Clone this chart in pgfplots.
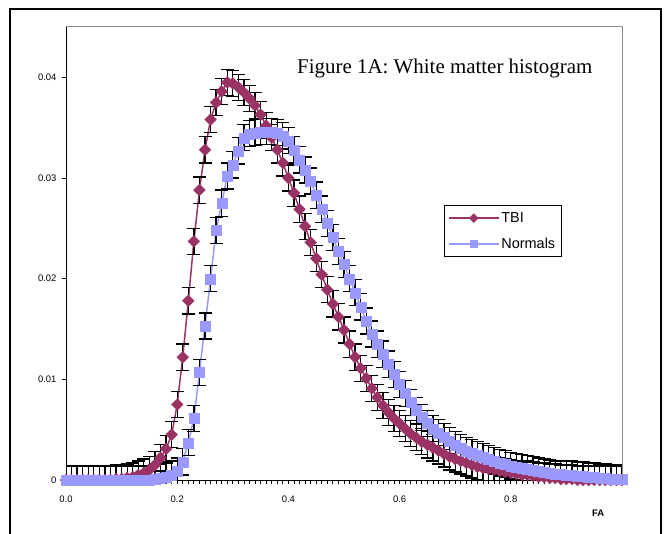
\documentclass[border=0pt]{standalone}
\usepackage{fontspec}
\setmainfont{Liberation Sans}
\newfontfamily\timesfont{Liberation Serif}
\usepackage{pgfplots}
\usepackage{pgfplotstable}
\pgfplotsset{compat=1.18}
\definecolor{tbicol}{HTML}{993366}
\definecolor{nrmcol}{HTML}{9999FF}

\pgfplotstableread{
x y e
0.00 0.0000 0.0014
0.01 0.0000 0.0014
0.02 0.0000 0.0014
0.03 0.0000 0.0014
0.04 0.0000 0.0014
0.05 0.0000 0.0014
0.06 0.0000 0.0014
0.07 0.0000 0.0014
0.08 0.0000 0.0014
0.09 0.0001 0.0014
0.10 0.0001 0.0014
0.11 0.0002 0.0014
0.12 0.0003 0.0014
0.13 0.0005 0.0014
0.14 0.0007 0.0014
0.15 0.0010 0.0013
0.16 0.0015 0.0013
0.17 0.0022 0.0013
0.18 0.0031 0.0013
0.19 0.0045 0.0013
0.20 0.0075 0.0013
0.21 0.0122 0.0013
0.22 0.0178 0.0013
0.23 0.0237 0.0013
0.24 0.0288 0.0013
0.25 0.0328 0.0013
0.26 0.0358 0.0013
0.27 0.0375 0.0013
0.28 0.0386 0.0013
0.29 0.0395 0.0013
0.30 0.0394 0.0013
0.31 0.0390 0.0013
0.32 0.0385 0.0013
0.33 0.0379 0.0013
0.34 0.0372 0.0013
0.35 0.0363 0.0013
0.36 0.0352 0.0013
0.37 0.0340 0.0013
0.38 0.0328 0.0013
0.39 0.0315 0.0013
0.40 0.0300 0.0013
0.41 0.0285 0.0013
0.42 0.0269 0.0013
0.43 0.0252 0.0013
0.44 0.0236 0.0013
0.45 0.0220 0.0013
0.46 0.0204 0.0013
0.47 0.0189 0.0013
0.48 0.0175 0.0013
0.49 0.0162 0.0013
0.50 0.0149 0.0013
0.51 0.0135 0.0013
0.52 0.0122 0.0013
0.53 0.0111 0.0013
0.54 0.0101 0.0013
0.55 0.0091 0.0013
0.56 0.0082 0.0013
0.57 0.0074 0.0013
0.58 0.0067 0.0013
0.59 0.0061 0.0013
0.60 0.0056 0.0013
0.61 0.0051 0.0013
0.62 0.0046 0.0013
0.63 0.0042 0.0013
0.64 0.0038 0.0013
0.65 0.0035 0.0013
0.66 0.0032 0.0013
0.67 0.0029 0.0013
0.68 0.0026 0.0013
0.69 0.0023 0.0013
0.70 0.0021 0.0013
0.71 0.0019 0.0013
0.72 0.0017 0.0013
0.73 0.0015 0.0013
0.74 0.0013 0.0013
0.75 0.0012 0.0013
0.76 0.0011 0.0013
0.77 0.0010 0.0013
0.78 0.0009 0.0013
0.79 0.0008 0.0013
0.80 0.0007 0.0013
0.81 0.0006 0.0013
0.82 0.0005 0.0013
0.83 0.0005 0.0014
0.84 0.0004 0.0014
0.85 0.0003 0.0014
0.86 0.0003 0.0014
0.87 0.0002 0.0014
0.88 0.0002 0.0014
0.89 0.0001 0.0014
0.90 0.0001 0.0014
0.91 0.0001 0.0014
0.92 0.0000 0.0014
0.93 0.0000 0.0014
0.94 0.0000 0.0014
0.95 0.0000 0.0014
0.96 0.0000 0.0014
0.97 0.0000 0.0014
0.98 0.0000 0.0014
0.99 0.0000 0.0014
1.00 0.0000 0.0014
}\tbitable

\pgfplotstableread{
x y e
0.00 0.0000 0.0014
0.01 0.0000 0.0014
0.02 0.0000 0.0014
0.03 0.0000 0.0014
0.04 0.0000 0.0014
0.05 0.0000 0.0014
0.06 0.0000 0.0014
0.07 0.0000 0.0014
0.08 0.0000 0.0014
0.09 0.0000 0.0014
0.10 0.0000 0.0014
0.11 0.0000 0.0014
0.12 0.0000 0.0014
0.13 0.0000 0.0014
0.14 0.0000 0.0014
0.15 0.0000 0.0014
0.16 0.0001 0.0014
0.17 0.0002 0.0014
0.18 0.0003 0.0014
0.19 0.0005 0.0014
0.20 0.0009 0.0013
0.21 0.0018 0.0013
0.22 0.0037 0.0013
0.23 0.0061 0.0013
0.24 0.0107 0.0013
0.25 0.0153 0.0013
0.26 0.0200 0.0013
0.27 0.0248 0.0013
0.28 0.0275 0.0013
0.29 0.0302 0.0013
0.30 0.0313 0.0013
0.31 0.0327 0.0013
0.32 0.0340 0.0013
0.33 0.0344 0.0013
0.34 0.0345 0.0013
0.35 0.0346 0.0013
0.36 0.0346 0.0013
0.37 0.0346 0.0013
0.38 0.0345 0.0013
0.39 0.0342 0.0013
0.40 0.0337 0.0013
0.41 0.0328 0.0013
0.42 0.0318 0.0013
0.43 0.0308 0.0013
0.44 0.0297 0.0013
0.45 0.0283 0.0013
0.46 0.0269 0.0013
0.47 0.0255 0.0013
0.48 0.0241 0.0013
0.49 0.0227 0.0013
0.50 0.0214 0.0013
0.51 0.0200 0.0013
0.52 0.0186 0.0013
0.53 0.0172 0.0013
0.54 0.0158 0.0013
0.55 0.0145 0.0013
0.56 0.0135 0.0013
0.57 0.0125 0.0013
0.58 0.0115 0.0013
0.59 0.0105 0.0013
0.60 0.0095 0.0013
0.61 0.0086 0.0013
0.62 0.0077 0.0013
0.63 0.0069 0.0013
0.64 0.0062 0.0013
0.65 0.0056 0.0013
0.66 0.0051 0.0013
0.67 0.0047 0.0013
0.68 0.0043 0.0013
0.69 0.0039 0.0013
0.70 0.0035 0.0013
0.71 0.0032 0.0013
0.72 0.0029 0.0013
0.73 0.0027 0.0013
0.74 0.0025 0.0013
0.75 0.0023 0.0013
0.76 0.0021 0.0013
0.77 0.0019 0.0013
0.78 0.0017 0.0013
0.79 0.0016 0.0013
0.80 0.0014 0.0013
0.81 0.0013 0.0013
0.82 0.0012 0.0013
0.83 0.0011 0.0013
0.84 0.0010 0.0013
0.85 0.0009 0.0013
0.86 0.0008 0.0013
0.87 0.0007 0.0013
0.88 0.0006 0.0013
0.89 0.0006 0.0013
0.90 0.0005 0.0014
0.91 0.0005 0.0014
0.92 0.0004 0.0014
0.93 0.0004 0.0014
0.94 0.0003 0.0014
0.95 0.0003 0.0014
0.96 0.0002 0.0014
0.97 0.0002 0.0014
0.98 0.0001 0.0014
0.99 0.0001 0.0014
1.00 0.0001 0.0014
}\nrmtable

\begin{document}
\begin{tikzpicture}
\begin{axis}[
  name=ax, at={(0,0)}, anchor=south west,
  scale only axis, width=556bp, height=453bp,
  xmin=0, xmax=1, ymin=0, ymax=0.045,
  axis x line*=bottom, axis y line*=left,
  axis line style={black, line width=1bp, -},
  tick align=outside,
  xtick={0,0.2,0.4,0.6,0.8,1.0},
  xticklabels={0.0,0.2,0.4,0.6,0.8,{}},
  minor x tick num=19,
  ytick={0,0.01,0.02,0.03,0.04},
  yticklabels={0,0.01,0.02,0.03,0.04},
  scaled y ticks=false, scaled x ticks=false,
  major tick length=4bp, minor tick length=4bp,
  tick style={black, line width=0.8bp},
  /pgf/number format/assume math mode=true,
  ticklabel style={font=\fontsize{9.5}{10}\selectfont},
  xticklabel style={yshift=-8bp},
  yticklabel style={xshift=-2bp},
  xlabel={FA},
  xlabel style={at={(axis description cs:0.957,-0.073)}, anchor=center, font=\bfseries\fontsize{9.5}{10}\selectfont},
  legend style={at={(axis description cs:0.679,0.607)}, anchor=north west, draw=black, line width=0.8bp, fill=white,
    font=\fontsize{14.5}{16}\selectfont, row sep=10bp, inner xsep=4bp, inner ysep=5bp, cells={anchor=west}},
  legend image code/.code={\draw[#1, mark repeat=2, mark phase=2] plot coordinates {(0bp,0bp) (25bp,0bp) (50bp,0bp)};},
]
\addlegendimage{tbicol, line width=1.5bp, mark=square*, mark size=2.6bp, mark options={rotate=45, fill=tbicol, draw=tbicol}}
\addlegendentry{TBI}
\addlegendimage{nrmcol, line width=1.5bp, mark=square*, mark size=3.2bp, mark options={fill=nrmcol, draw=nrmcol}}
\addlegendentry{Normals}

\addplot[forget plot, color=tbicol, line width=1.5bp, mark=square*, mark size=4.2bp,
  mark options={rotate=45, fill=tbicol, draw=tbicol, line width=0.3bp},
  error bars/.cd, y dir=both, y explicit,
  error bar style={black, line width=1.3bp, solid},
  error mark options={black, line width=1.3bp, mark size=6.5bp, rotate=90}]
  table[x=x, y=y, y error=e]{\tbitable};
\addplot[forget plot, color=nrmcol, line width=1.5bp, mark=square*, mark size=5bp,
  mark options={fill=nrmcol, draw=nrmcol, line width=0.3bp},
  error bars/.cd, y dir=both, y explicit,
  error bar style={black, line width=1.3bp, solid},
  error mark options={black, line width=1.3bp, mark size=6.5bp, rotate=90}]
  table[x=x, y=y, y error=e]{\nrmtable};

\node[font=\timesfont\fontsize{21}{24}\selectfont, anchor=base west, inner sep=0pt] at (axis cs:0.4155,0.0404) {Figure 1A: White matter histogram};
\end{axis}
\draw[black!45, line width=1bp] (ax.north west) -- (ax.north east) -- (ax.south east);
\draw[black, line width=1.5bp] (-56bp,-60bp) -- (-56bp,471bp) -- (595bp,471bp) -- (595bp,-60bp);
\pgfresetboundingbox
\useasboundingbox (-66bp,-54bp) rectangle (598bp,480bp);
\end{tikzpicture}
\end{document}
